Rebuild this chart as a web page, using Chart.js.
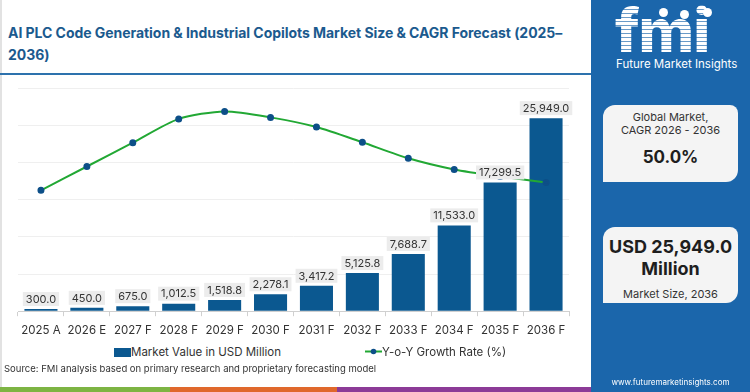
<!DOCTYPE html>
<html lang="en">
  <head>
    <meta charset="UTF-8" />
    <title>AI PLC Code Generation Market</title>
    <script src="https://cdn.jsdelivr.net/npm/chart.js"></script>
    <style>
      body { margin: 0; background: #fff; font-family: Inter, "Open Sans", sans-serif; }
      #wrap { position: relative; width: 750px; height: 392px; overflow: hidden; background: #fff; }
      #left-edge { position: absolute; left: 0; top: 0; width: 2px; height: 387px; background: #e2e2e2; }
      #title { position: absolute; left: 8px; top: 22px; font-size: 14px; font-weight: 700; line-height: 22px; color: #1b5a8e; letter-spacing: -0.05px; white-space: nowrap; }
      #rule { position: absolute; left: 0; top: 73px; width: 591px; height: 2px; background: #2d72ad; }
      #chartBox { position: absolute; left: 0; top: 80px; width: 590px; height: 265px; }
      .legend { position: absolute; top: 345px; font-size: 11.5px; color: #333; white-space: nowrap; }
      #source { position: absolute; left: 4px; top: 363px; font-size: 9.5px; color: #333; white-space: nowrap; }
      .stripe { position: absolute; top: 387px; height: 5px; }
      #panel { position: absolute; left: 591px; top: 0; width: 159px; height: 392px; background: #1b66ab; }
      #logo { position: absolute; left: 24px; top: -6px; font-size: 60px; font-weight: 800; letter-spacing: -1px;
        color: transparent; background: repeating-linear-gradient(#fff 0 3px, rgba(255,255,255,0.35) 3px 4px);
        -webkit-background-clip: text; background-clip: text; }
      #logoText { position: absolute; left: 25px; top: 57px; font-size: 11.5px; color: #fff; }
      .icon { position: absolute; width: 9px; height: 9px; border-radius: 50%; background: #fff; }
      .card { position: absolute; left: 12px; width: 135px; background: #f4f4f4; border-radius: 12px 8px 12px 0; text-align: center; color: #333; }
      .small { font-size: 11px; line-height: 13px; }
      .big { font-size: 17px; font-weight: 700; color: #1e1e1e; }
      #site { position: absolute; left: 0; width: 159px; top: 377px; text-align: center; font-size: 8px; color: #fff; }
    </style>
  </head>
  <body>
    <div id="wrap">
      <div id="left-edge"></div>
      <div id="title">AI PLC Code Generation &amp; Industrial Copilots Market Size &amp; CAGR Forecast (2025–<br />2036)</div>
      <div id="rule"></div>
      <div id="chartBox"><canvas id="chart" width="590" height="265"></canvas></div>
      <div class="legend" style="left: 114px">
        <span style="display:inline-block;width:17px;height:9px;background:#0b5890;vertical-align:-1px"></span>Market Value in USD Million
      </div>
      <div class="legend" style="left: 365px">
        <canvas id="lineIcon" width="17" height="9" style="vertical-align:0px"></canvas>Y-o-Y Growth Rate (%)
      </div>
      <div id="source">Source: FMI analysis based on primary research and proprietary forecasting model</div>
      <div class="stripe" style="left:0;width:170px;background:#7db443"></div>
      <div class="stripe" style="left:170px;width:167px;background:#e0682c"></div>
      <div class="stripe" style="left:337px;width:254px;background:#8c3b97"></div>
      <div id="panel">
        <div id="logo">fmi</div>
        <div class="icon" style="left:68px;top:8px"></div>
        <div class="icon" style="left:89px;top:10px"></div>
        <div class="icon" style="left:112px;top:8px"></div>
        <div id="logoText">Future Market Insights</div>
        <div class="card" style="top:105px;height:77px">
          <div class="small" style="margin-top:6px">Global Market,</div>
          <div class="small">CAGR 2026 - 2036</div>
          <div class="big" style="margin-top:10px">50.0%</div>
        </div>
        <div class="card" style="top:227px;height:76px">
          <div class="big" style="margin-top:9px;font-size:18px;line-height:22px">USD 25,949.0</div>
          <div class="big" style="font-size:18px;line-height:22px">Million</div>
          <div class="small" style="margin-top:8px">Market Size, 2036</div>
        </div>
        <div id="site">www.futuremarketinsights.com</div>
      </div>
    </div>
    <script>
      const years = ["2025 A", "2026 E", "2027 F", "2028 F", "2029 F", "2030 F",
        "2031 F", "2032 F", "2033 F", "2034 F", "2035 F", "2036 F"];
      const marketValue = [300.0, 450.0, 675.0, 1012.5, 1518.8, 2278.1,
        3417.2, 5125.8, 7688.7, 11533.0, 17299.5, 25949.0];
      // growth line as drawn (hidden right axis 0-60)
      const growthRate = [32.5, 38.9, 45.3, 51.7, 53.7, 52.1, 49.5, 45.4, 41.1, 38.1, 36.2, 34.6];

      const BAR_BLUE = "#0b5890";
      const LINE_GREEN = "#22a834";
      const DOT_BLUE = "#0d4f88";

      // legend icon for the line
      const ic = document.getElementById("lineIcon").getContext("2d");
      ic.strokeStyle = LINE_GREEN; ic.lineWidth = 2;
      ic.beginPath(); ic.moveTo(0, 4.5); ic.lineTo(17, 4.5); ic.stroke();
      ic.fillStyle = DOT_BLUE; ic.beginPath(); ic.arc(8.5, 4.5, 2.8, 0, Math.PI * 2); ic.fill();

      const fmt = (v) => v.toLocaleString("en-US", { minimumFractionDigits: 1, maximumFractionDigits: 1 });

      const barLabels = {
        id: "barLabels",
        afterDatasetsDraw(chart) {
          const ctx = chart.ctx;
          const meta = chart.getDatasetMeta(1);
          ctx.save();
          ctx.font = "11px Inter, 'Open Sans', sans-serif";
          ctx.textAlign = "center";
          ctx.textBaseline = "middle";
          meta.data.forEach((bar, i) => {
            const txt = fmt(marketValue[i]);
            const w = ctx.measureText(txt).width + 6;
            const h = 14;
            const bottom = bar.y - 3;
            ctx.fillStyle = "#ececec";
            ctx.fillRect(bar.x - w / 2, bottom - h, w, h);
            ctx.fillStyle = "#333";
            ctx.fillText(txt, bar.x, bottom - h / 2 + 0.5);
          });
          ctx.restore();
        },
      };

      new Chart(document.getElementById("chart"), {
        data: {
          labels: years,
          datasets: [
            {
              type: "line",
              label: "Y-o-Y Growth Rate (%)",
              data: growthRate,
              yAxisID: "y1",
              borderColor: LINE_GREEN,
              borderWidth: 2,
              pointBackgroundColor: DOT_BLUE,
              pointBorderColor: DOT_BLUE,
              pointRadius: 2.5,
              tension: 0.25,
              order: 0,
            },
            {
              type: "bar",
              label: "Market Value in USD Million",
              data: marketValue,
              yAxisID: "y",
              backgroundColor: BAR_BLUE,
              categoryPercentage: 0.72,
              barPercentage: 1,
              order: 1,
            },
          ],
        },
        options: {
          responsive: false,
          animation: false,
          devicePixelRatio: 1,
          layout: { padding: { left: 18, right: 21, top: 8, bottom: 1 } },
          plugins: { legend: { display: false }, tooltip: { enabled: false } },
          scales: {
            x: {
              grid: { drawOnChartArea: false, drawTicks: true, tickLength: 5, color: "#d0d0d0" },
              border: { color: "#d0d0d0" },
              ticks: { color: "#333", font: { size: 11.5, family: "Inter, 'Open Sans', sans-serif" }, padding: 7, maxRotation: 0, minRotation: 0, autoSkip: false },
            },
            y: {
              min: 0,
              max: 30000,
              ticks: { display: false, stepSize: 5000 },
              grid: { color: "#efefef", drawTicks: false },
              border: { display: false },
            },
            y1: { display: false, min: 0, max: 60 },
          },
        },
        plugins: [barLabels],
      });
    </script>
  </body>
</html>
